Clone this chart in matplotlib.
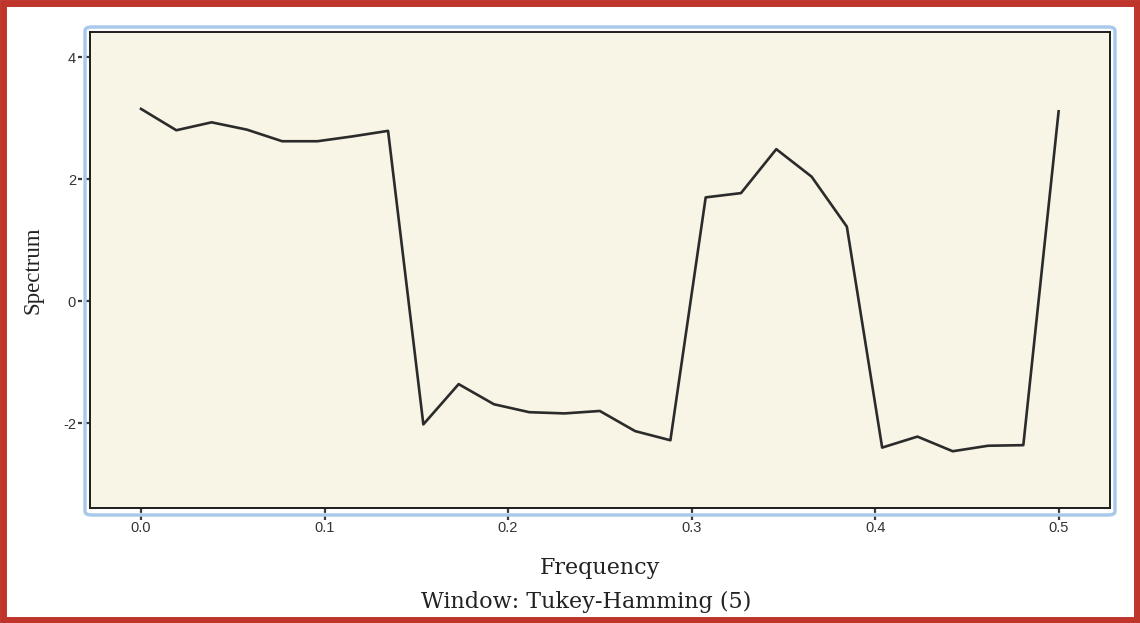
import numpy as np
import matplotlib
matplotlib.use("Agg")
import matplotlib.pyplot as plt
from matplotlib.patches import FancyBboxPatch, Rectangle
import matplotlib.transforms as mtransforms

# Data
k = list(range(27))
frequency = [i / 52 for i in k]
spectrum = [3.15, 2.80, 2.93, 2.81, 2.62, 2.62, 2.70, 2.79,
            -2.02, -1.36, -1.69, -1.82, -1.84, -1.80, -2.13, -2.28,
            1.70, 1.77, 2.49, 2.04, 1.22,
            -2.40, -2.22, -2.46, -2.37, -2.36, 3.11]
xticks = [0.0, 0.1, 0.2, 0.3, 0.4, 0.5]
xticklabels = ["0.0", "0.1", "0.2", "0.3", "0.4", "0.5"]
yticks = [-2, 0, 2, 4]
yticklabels = ["-2", "0", "2", "4"]

W, H = 1140, 623
fig = plt.figure(figsize=(W / 100, H / 100), dpi=100)
fig.patch.set_facecolor("white")

ax = fig.add_axes([90 / W, 1 - 508 / H, (1110 - 90) / W, (508 - 32) / H])
ax.set_facecolor("#f8f4e6")
ax.plot(frequency, spectrum, color="#2b2b2b", lw=1.9)
ax.set_xlim(-0.0278, 0.528)
ax.set_ylim(-3.39, 4.41)

for s in ax.spines.values():
    s.set_color("#1e1e1e")
    s.set_linewidth(1.4)

ax.set_xticks(xticks)
ax.set_yticks(yticks)
ax.set_xticklabels(xticklabels, fontsize=10.5, color="#333333", family="Liberation Sans")
ax.set_yticklabels(yticklabels, fontsize=10.5, color="#333333", family="Liberation Sans")
ax.tick_params(axis="x", length=0, pad=9)
ax.tick_params(axis="y", length=0, pad=10)

# dashed tick marks
bx = mtransforms.blended_transform_factory(ax.transData, ax.transAxes)
by = mtransforms.blended_transform_factory(ax.transAxes, ax.transData)
dy = 12 / (508 - 32)
dx = 12 / (1110 - 90)
for t in xticks:
    ax.plot([t, t], [0, -dy], transform=bx, color="#3a3a3a", lw=1.6,
            ls=(0, (2.2, 1.4)), clip_on=False)
for t in yticks:
    ax.plot([0, -dx], [t, t], transform=by, color="#3a3a3a", lw=1.6,
            ls=(0, (2.2, 1.4)), clip_on=False)

ax.set_xlabel("Frequency", family="DejaVu Serif", fontsize=16, color="#222222",
              labelpad=16)
ax.set_ylabel("Spectrum", family="Liberation Serif", fontsize=16.5, color="#222222",
              labelpad=14)
fig.text(586 / W, 1 - 602 / H, "Window: Tukey-Hamming (5)", family="DejaVu Serif",
         fontsize=16, color="#222222", ha="center", va="center")

# light blue rounded frame
frame = FancyBboxPatch((85 / W, 1 - 515 / H), (1115 - 85) / W, (515 - 27) / H,
                       boxstyle="round,pad=0,rounding_size=0.006",
                       transform=fig.transFigure, fill=False,
                       edgecolor="#a9c9ea", lw=2.5, zorder=0)
fig.patches.append(frame)

# red outer border
border = Rectangle((3 / W, 3 / H), (W - 6) / W, (H - 6) / H,
                   transform=fig.transFigure, fill=False,
                   edgecolor="#c0352b", lw=5)
fig.patches.append(border)

fig.savefig("out.png", dpi=100, facecolor="white")
